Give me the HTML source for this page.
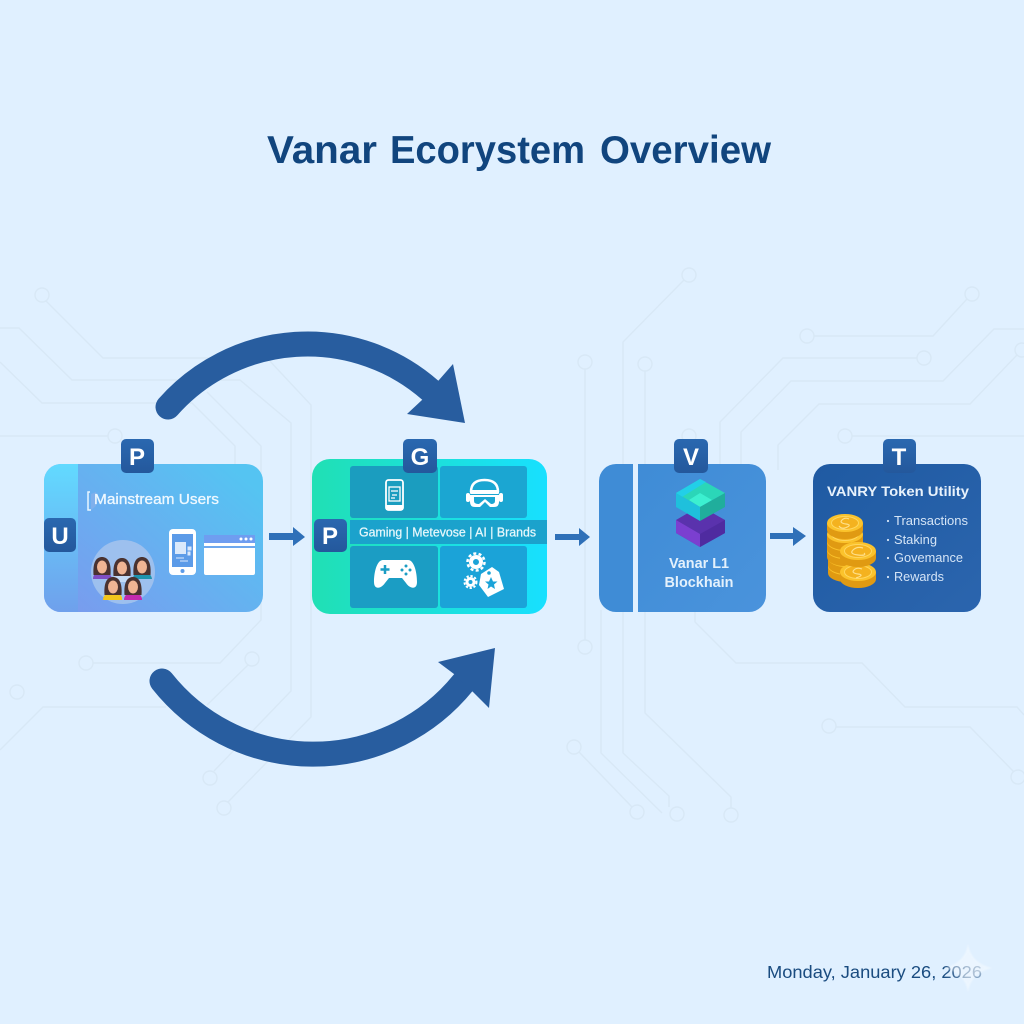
<!DOCTYPE html>
<html><head><meta charset="utf-8"><title>Vanar Ecosystem Overview</title>
<style>html,body{margin:0;padding:0;background:#e0f0ff}svg{display:block}text{font-family:"Liberation Sans",sans-serif}</style></head>
<body>
<svg width="1024" height="1024" viewBox="0 0 1024 1024" xmlns="http://www.w3.org/2000/svg">
<defs>
<linearGradient id="c1" x1="0" y1="1" x2="1" y2="0.200"><stop offset="0" stop-color="#7c98ee"/><stop offset="1" stop-color="#55c4f2"/></linearGradient>
<linearGradient id="s1" x1="0" y1="0" x2="0" y2="1"><stop offset="0" stop-color="#62daff"/><stop offset="1" stop-color="#6fa0ec"/></linearGradient>
<linearGradient id="c2" x1="0" y1="0" x2="1" y2="0"><stop offset="0" stop-color="#20e0b4"/><stop offset="1" stop-color="#18e0ff"/></linearGradient>
<linearGradient id="c3" x1="0" y1="0" x2="1" y2="1"><stop offset="0" stop-color="#3f8cd6"/><stop offset="1" stop-color="#4a93dc"/></linearGradient>
<linearGradient id="c4" x1="0" y1="0" x2="1" y2="1"><stop offset="0" stop-color="#1f5aa2"/><stop offset="1" stop-color="#2b65ae"/></linearGradient>
<linearGradient id="b" x1="0" y1="0" x2="0" y2="1"><stop offset="0" stop-color="#2a68b0"/><stop offset="1" stop-color="#24589c"/></linearGradient>
<linearGradient id="dt" x1="0" y1="0" x2="1" y2="0"><stop offset="0" stop-color="#1a4c80"/><stop offset=".82" stop-color="#1a4c80"/><stop offset=".93" stop-color="#6e90b4"/><stop offset="1" stop-color="#8fabc8"/></linearGradient>
<filter id="soft" x="-30%" y="-30%" width="160%" height="160%"><feGaussianBlur stdDeviation="0.800"/></filter>
<g id="face"><path d="M-8.500 8C-9.500-6-5-10 0-10S9.500-6 8.500 8Z" fill="#4a3230"/><ellipse cx="0" cy="0" rx="5" ry="6.500" fill="#f0b493"/></g>
<g id="coin"><path d="M-18 0V7A18 9 0 0 0 18 7V0Z" fill="#e09a12"/><ellipse rx="18" ry="9" fill="#fbc32c"/><ellipse rx="13.500" ry="6.500" fill="#f4b21f" stroke="#ffd760" stroke-width="1"/></g>
</defs>
<rect width="1024" height="1024" fill="#e0f0ff"/>

<!-- circuit traces -->
<g fill="none" stroke="#d8e8f6" stroke-width="1.400">
<path d="M46 301L103 358H267L311 405V717L228 802"/>
<path d="M0 328H19L72 380H240L291 423V691L214 771"/>
<path d="M0 362L42 403H192L235 446V470"/>
<path d="M207 392L261 446V620L220 663H93"/>
<path d="M0 436H108"/>
<path d="M248 665L207 705M166 707H43L0 750"/>
<circle cx="42" cy="295" r="7"/><circle cx="115" cy="436" r="7"/><circle cx="86" cy="663" r="7"/><circle cx="252" cy="659" r="7"/><circle cx="17" cy="692" r="7"/><circle cx="210" cy="778" r="7"/><circle cx="224" cy="808" r="7"/>
<path d="M684 280L623 342V753L669 796V807"/>
<path d="M585 369V640"/><circle cx="585" cy="362" r="7"/><circle cx="585" cy="647" r="7"/>
<path d="M645 371V713L731 797V808"/><circle cx="645" cy="364" r="7"/><circle cx="731" cy="815" r="7"/>
<path d="M601 610V753L662 813"/><path d="M579 752L632 807"/><circle cx="574" cy="747" r="7"/><circle cx="637" cy="812" r="7"/><circle cx="677" cy="814" r="7"/>
<circle cx="689" cy="275" r="7"/><circle cx="689" cy="436" r="7"/>
<path d="M917 358H783L720 422V470"/><circle cx="924" cy="358" r="7"/>
<path d="M814 336H933L967 299"/><circle cx="807" cy="336" r="7"/><circle cx="972" cy="294" r="7"/>
<path d="M1024 329H994L943 381H791L741 432V470"/>
<path d="M1017 355L970 404H819L778 445V470"/><circle cx="1022" cy="350" r="7"/>
<path d="M852 436H1024"/><circle cx="845" cy="436" r="7"/>
<path d="M695 610V622L736 663H862L905 707H1017L1024 715"/>
<path d="M836 727H970L1014 772"/><circle cx="829" cy="726" r="7"/><circle cx="1018" cy="777" r="7"/>
</g>

<!-- title -->
<g font-size="39" font-weight="700" fill="#11457e">
<text x="267" y="163" textLength="110" lengthAdjust="spacingAndGlyphs">Vanar</text>
<text x="390" y="163" textLength="195" lengthAdjust="spacingAndGlyphs">Ecorystem</text>
<text x="600" y="163" textLength="171" lengthAdjust="spacingAndGlyphs">Overview</text>
</g>

<!-- big arrows -->
<path d="M168 407A186 186 0 0 1 430 390" fill="none" stroke="#285d9f" stroke-width="25" stroke-linecap="round"/>
<path d="M453 364L465 423L407 414L422 400L432 388L439 380Z" fill="#285d9f"/>
<path d="M162 681A193 193 0 0 0 463 683" fill="none" stroke="#285d9f" stroke-width="25" stroke-linecap="round"/>
<path d="M495 648L489 708L473 692L463 683L454 674L438 662Z" fill="#285d9f"/>

<!-- small arrows -->
<g fill="#2f70b8">
<path d="M269 533H293V527L305 537L293 546V540H269Z"/>
<path d="M555 534H579V528L590 537L579 546V540H555Z"/>
<path d="M770 533H793V527L806 536L793 546V539H770Z"/>
</g>

<!-- card 1 -->
<rect x="44" y="464" width="219" height="148" rx="17" fill="url(#c1)"/>
<path d="M78 464H61A17 17 0 0 0 44 481V595A17 17 0 0 0 61 612H78Z" fill="url(#s1)"/>
<path d="M90 492H88V510H91" fill="none" stroke="#e8f6ff" stroke-width="1.500"/>
<path d="M91 494L96 492V506L91 510Z" fill="#7fb0ec"/>
<text x="94" y="504" font-size="14.500" fill="#eef8ff" stroke="#eef8ff" stroke-width=".3" textLength="125" lengthAdjust="spacingAndGlyphs">Mainstream Users</text>
<circle cx="123" cy="572" r="32" fill="#9dc0ee"/>
<g>
<path d="M93 579Q93 572 102 572T112 579Z" fill="#7e4fc4"/><use href="#face" x="102" y="567"/>
<path d="M133 579Q133 572 142 572T152 579Z" fill="#1f93ad"/><use href="#face" x="142" y="567"/>
<path d="M111 582Q112 574 122 574T133 582Z" fill="#c2daf6"/><use href="#face" x="122" y="568"/>
<path d="M103 600Q103 593 113 593T122 600Z" fill="#f2c51c"/><use href="#face" x="113" y="587"/>
<path d="M124 600Q124 593 133 593T142 600Z" fill="#c32aae"/><use href="#face" x="133" y="587"/>
</g>
<rect x="169" y="529" width="27" height="46" rx="4" fill="#fff"/>
<rect x="172" y="534" width="21" height="33" fill="#5c9be8"/>
<circle cx="182.500" cy="571" r="2" fill="#5c9be8"/>
<rect x="175" y="542" width="11" height="12" fill="#dbe9fb"/>
<path d="M188 547h3v3h-3zM188 552h2v3h-2zM176 558h8M180 561h8" stroke="#dbe9fb" stroke-width="1" fill="#dbe9fb"/>
<rect x="204" y="535" width="51" height="40" rx="2" fill="#fff"/>
<rect x="204" y="535" width="51" height="8" fill="#6f9df0"/>
<rect x="204" y="546" width="51" height="2" fill="#6fa8ee"/>
<g fill="#fff"><circle cx="241" cy="539" r="1.500"/><circle cx="246" cy="539" r="1.500"/><circle cx="251" cy="539" r="1.500"/></g>

<!-- card 2 -->
<rect x="312" y="459" width="235" height="155" rx="18" fill="url(#c2)"/>
<rect x="350" y="466" width="88" height="52" rx="3" fill="#1b9dbf"/>
<rect x="440" y="466" width="87" height="52" rx="3" fill="#1ba6d2"/>
<rect x="350" y="546" width="88" height="62" rx="3" fill="#1b9dc4"/>
<rect x="440" y="546" width="87" height="62" rx="3" fill="#1ba3d8"/>
<rect x="350" y="520" width="197" height="24" fill="#1ba2cc"/>
<text x="359" y="536.500" font-size="12.500" fill="#e6f7fb" stroke="#e6f7fb" stroke-width=".25" textLength="177" lengthAdjust="spacingAndGlyphs">Gaming | Metevose | AI | Brands</text>
<!-- phone icon -->
<rect x="386" y="480" width="17" height="30" rx="2.500" fill="none" stroke="#fff" stroke-width="1.800"/>
<rect x="386" y="505" width="17" height="5" fill="#fff"/>
<rect x="389" y="487" width="11" height="14" fill="none" stroke="#fff" stroke-width="1.300"/>
<path d="M391 491h7M392 495h5M391 498h4" stroke="#fff" stroke-width="1.200"/>
<!-- vr icon -->
<path d="M471 492Q471 480 484.500 480T498 492" fill="none" stroke="#fff" stroke-width="2.500"/>
<rect x="470" y="490" width="29" height="4" rx="1" fill="#fff"/>
<path d="M470 495H499V502Q499 507 494 507H490L485 502L480 507H475Q470 507 470 502Z" fill="#fff"/>
<path d="M474 497H495V501Q495 504 491 504L485 499L479 504Q474 504 474 501Z" fill="#1ba6d2"/>
<rect x="466" y="493" width="4" height="9" rx="2" fill="#fff"/><rect x="499" y="493" width="4" height="9" rx="2" fill="#fff"/>
<!-- gamepad -->
<path d="M383 560H408C414 560 417 572 417 582C417 590 410 589 406 583L402 578H389L385 583C381 589 374 590 374 582C374 572 377 560 383 560Z" fill="#fff"/>
<path d="M385 565v9M380.500 569.500h9" stroke="#1b9dc4" stroke-width="2.500"/>
<g fill="#1b9dc4"><circle cx="406" cy="566" r="1.500"/><circle cx="410" cy="570" r="1.500"/><circle cx="402" cy="570" r="1.500"/><circle cx="406" cy="574" r="1.500"/></g>
<!-- gears & tag -->
<g fill="none" stroke="#fff">
<circle cx="476" cy="562" r="5" stroke-width="4"/><circle cx="476" cy="562" r="8.500" stroke-width="2.500" stroke-dasharray="3 2.300"/>
<circle cx="470.500" cy="582" r="3.500" stroke-width="3"/><circle cx="470.500" cy="582" r="6" stroke-width="2" stroke-dasharray="2.300 1.700"/>
</g>
<path d="M481 574L492 567L499 572L504 589L488 597L479 585Z" fill="#fff"/>
<circle cx="489" cy="573" r="1.800" fill="#1ba3d8"/>
<path d="M491 577L493 581.500H497.500L494 584.500L495 589L491 586.500L487.500 589L488.500 584.500L485 581.500H489Z" fill="#1ba3d8"/>

<!-- card 3 -->
<path d="M633 464H616A17 17 0 0 0 599 481V595A17 17 0 0 0 616 612H633Z" fill="#3f8cd6"/>
<path d="M638 464H749A17 17 0 0 1 766 481V595A17 17 0 0 1 749 612H638Z" fill="url(#c3)"/>
<path d="M676 520L700 506L725 520V533L700 547L676 533Z" fill="#5a32ad"/>
<path d="M676 520L700 534V547L676 533Z" fill="#7b3fd0"/>
<path d="M700 534L725 520V533L700 547Z" fill="#4f2ba0"/>
<path d="M676 493L700 479L725 493L700 507Z" fill="#2bd6b8"/>
<path d="M676 493L700 479L706 482L682 497Z" fill="#22cfe8"/>
<path d="M689 500L700 493L712 500L700 507Z" fill="#3cf0d0"/>
<path d="M676 493L700 507V521L676 507Z" fill="#1fc0dc"/>
<path d="M700 507L725 493V507L700 521Z" fill="#20ae9c"/>
<text x="699" y="568" font-size="15" font-weight="700" fill="#e4f1fc" text-anchor="middle" textLength="60" lengthAdjust="spacingAndGlyphs">Vanar L1</text>
<text x="699" y="587" font-size="15" font-weight="700" fill="#e4f1fc" text-anchor="middle" textLength="69" lengthAdjust="spacingAndGlyphs">Blockhain</text>

<!-- card 4 -->
<rect x="813" y="464" width="168" height="148" rx="17" fill="url(#c4)"/>
<text x="827" y="496" font-size="14" font-weight="700" fill="#e8f2fc" textLength="142" lengthAdjust="spacingAndGlyphs">VANRY Token Utility</text>
<g font-size="12.500" fill="#d4e4f6">
<circle cx="888" cy="521" r="1.100"/><text x="894" y="525" textLength="74" lengthAdjust="spacingAndGlyphs">Transactions</text>
<circle cx="888" cy="540" r="1.100"/><text x="894" y="544" textLength="43" lengthAdjust="spacingAndGlyphs">Staking</text>
<circle cx="888" cy="558" r="1.100"/><text x="894" y="562" textLength="69" lengthAdjust="spacingAndGlyphs">Govemance</text>
<circle cx="888" cy="577" r="1.100"/><text x="894" y="581" textLength="50" lengthAdjust="spacingAndGlyphs">Rewards</text>
</g>
<use href="#coin" x="846" y="566"/><use href="#coin" x="846" y="558"/><use href="#coin" x="845" y="550"/><use href="#coin" x="845" y="542"/><use href="#coin" x="845" y="534"/><use href="#coin" x="845" y="523"/>
<use href="#coin" x="858" y="572"/><use href="#coin" x="858" y="551"/>
<g fill="none" stroke="#ffe08a" stroke-width="1.200"><path d="M849 519Q845 517 842 520T846 524T845 528Q841 529 839 526"/><path d="M863 548Q857 546 853 550T858 555T864 553"/><path d="M862 569Q857 567 854 570T858 574T856 578"/></g>

<!-- badges -->
<g fill="url(#b)">
<rect x="121" y="439" width="33" height="34" rx="5"/><rect x="44" y="518" width="32" height="34" rx="5"/>
<rect x="403" y="439" width="34" height="34" rx="5"/><rect x="314" y="519" width="33" height="33" rx="5"/>
<rect x="674" y="439" width="34" height="34" rx="5"/><rect x="883" y="439" width="33" height="34" rx="5"/>
</g>
<g font-size="24" font-weight="700" fill="#fff" text-anchor="middle">
<text x="137" y="465">P</text><text x="60" y="544">U</text><text x="420" y="465">G</text><text x="330" y="544">P</text><text x="691" y="465">V</text><text x="899" y="465">T</text>
</g>

<!-- date -->
<text x="767" y="978" font-size="17.500" fill="url(#dt)" textLength="215" lengthAdjust="spacingAndGlyphs">Monday, January 26, 2026</text>
<path d="M968 944Q971 963 992 968Q971 973 968 992Q965 973 944 968Q965 963 968 944Z" fill="#fff" opacity=".38" filter="url(#soft)"/>
</svg>
</body></html>
